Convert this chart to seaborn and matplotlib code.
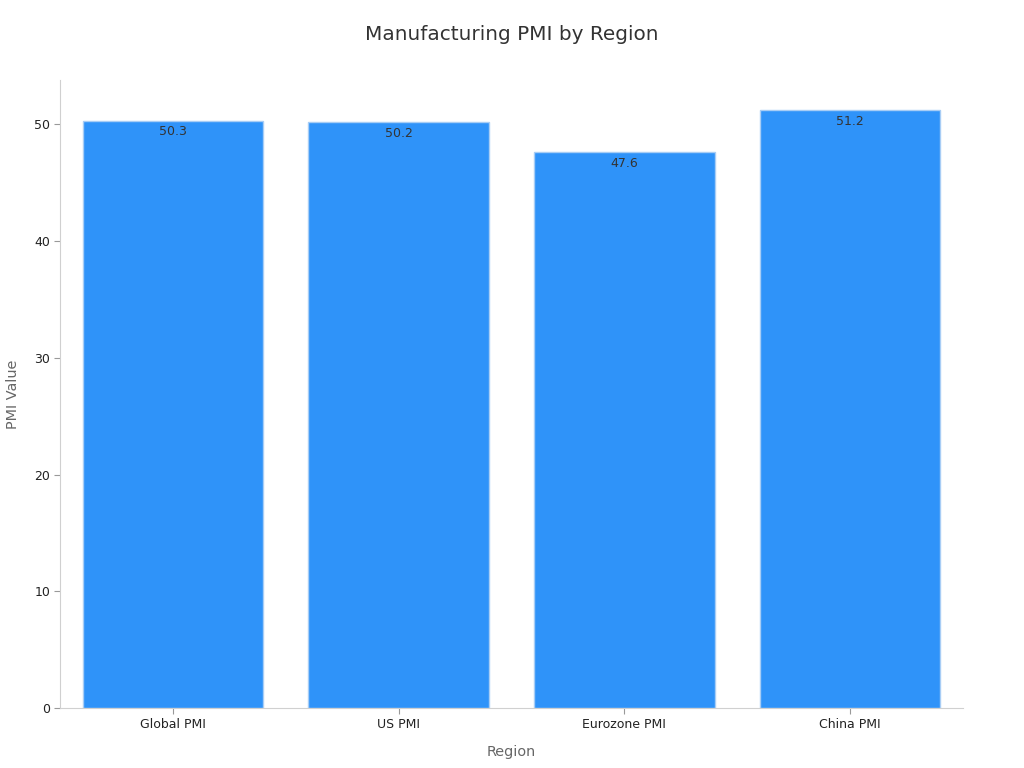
import matplotlib
matplotlib.use("Agg")
import matplotlib.pyplot as plt
import pandas as pd
import seaborn as sns

regions = ["Global PMI", "US PMI", "Eurozone PMI", "China PMI"]
pmi_values = [50.3, 50.2, 47.6, 51.2]

df = pd.DataFrame({"Region": regions, "PMI Value": pmi_values})

sns.set_style("white")
plt.rcParams["font.family"] = ["DejaVu Sans"]

fig = plt.figure(figsize=(10.24, 7.68), dpi=100)
ax = fig.add_axes([0.0586, 0.078, 0.8818, 0.818])

sns.barplot(data=df, x="Region", y="PMI Value", color="#2f93f9", saturation=1,
            width=0.8, edgecolor="#a8cdf5", linewidth=1, ax=ax)

for i, v in enumerate(pmi_values):
    ax.text(i, v - 0.4, f"{v}", ha="center", va="top", fontsize=9, color="#333333")

ax.set_xlim(-0.5, 3.5)
ax.set_ylim(0, 53.8)
ax.set_yticks([0, 10, 20, 30, 40, 50])
ax.set_title("Manufacturing PMI by Region", fontsize=14.4, color="#333333", pad=29)
ax.set_xlabel("Region", fontsize=10.4, color="#666666", labelpad=10)
ax.set_ylabel("PMI Value", fontsize=10.4, color="#666666", labelpad=10)
ax.tick_params(axis="both", labelsize=9, colors="#222222", length=4, color="#999999",
               bottom=True, left=True, pad=3)
for side in ["top", "right"]:
    ax.spines[side].set_visible(False)
for side in ["left", "bottom"]:
    ax.spines[side].set_color("#d0d0d0")

fig.savefig("out.png", dpi=100)
